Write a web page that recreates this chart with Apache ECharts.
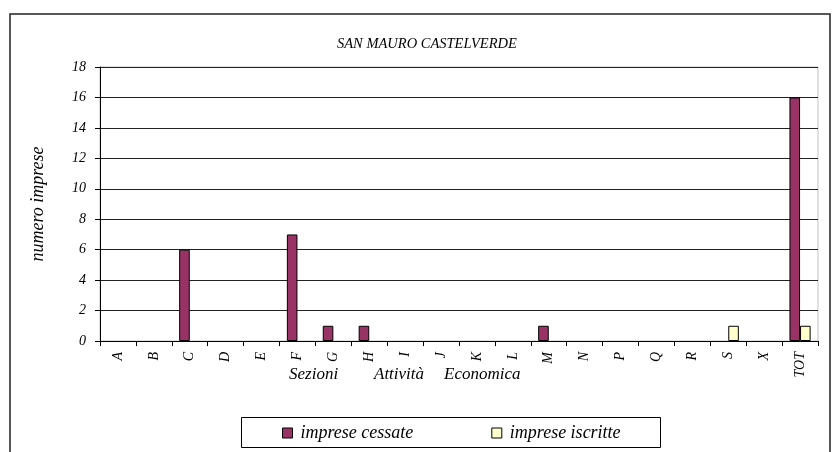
<!DOCTYPE html>
<html><head><meta charset="utf-8">
<script src="https://cdn.jsdelivr.net/npm/echarts@6/dist/echarts.min.js"></script>
<style>html,body{margin:0;padding:0;background:#fff}#c{width:838px;height:452px}</style>
</head><body><div id="c"></div>
<script>
const categories = ['A','B','C','D','E','F','G','H','I','J','K','L','M','N','P','Q','R','S','X','TOT'];
const cessate =   [0,0,6,0,0,7,1,1,0,0,0,0,1,0,0,0,0,0,0,16];
const iscritte =  [0,0,0,0,0,0,0,0,0,0,0,0,0,0,0,0,0,1,0,1];
const yTicks = [0,2,4,6,8,10,12,14,16,18];
const FONT = '"Liberation Serif","Times New Roman",serif';
const hideZero = arr => arr.map(v => v === 0 ? {value:v, itemStyle:{borderWidth:0, opacity:0}} : v);
const chart = echarts.init(document.getElementById('c'), null, {renderer:'canvas'});
chart.setOption({
  animation:false,
  backgroundColor:'#fff',
  title:{text:'SAN MAURO CASTELVERDE', left:337, top:37, padding:0,
    textStyle:{fontFamily:FONT, fontStyle:'italic', fontWeight:'normal', fontSize:14.5, color:'#000'}},
  grid:{left:100, right:20, top:67, bottom:111, show:true, borderColor:'#c0c0c0', borderWidth:1},
  legend:{left:282, top:424, padding:0, itemWidth:10, itemHeight:10, itemGap:78, icon:'rect',
    textStyle:{fontFamily:FONT, fontStyle:'italic', fontSize:18, color:'#000', padding:[0,0,0,3]},
    itemStyle:{borderColor:'#000', borderWidth:1},
    data:['imprese cessate','imprese iscritte']},
  xAxis:{type:'category', data:categories, boundaryGap:true,
    axisLine:{lineStyle:{color:'#000'}}, axisTick:{show:true, length:5, alignWithLabel:false, lineStyle:{color:'#000'}},
    axisLabel:{rotate:90, fontFamily:FONT, fontStyle:'italic', fontSize:14, color:'#000', margin:11, interval:0}},
  yAxis:{type:'value', min:0, max:18, interval:2,
    name:'numero imprese', nameLocation:'middle', nameGap:53,
    nameTextStyle:{fontFamily:FONT, fontStyle:'italic', fontSize:18, color:'#000'},
    axisLine:{show:true, lineStyle:{color:'#000'}}, axisTick:{show:true, length:5, lineStyle:{color:'#000'}},
    axisLabel:{fontFamily:FONT, fontStyle:'italic', fontSize:14, color:'#000', margin:14,
      formatter:v=>yTicks.includes(v)?String(v):''},
    splitLine:{show:true, lineStyle:{color:'#222', width:1}}},
  series:[
    {name:'imprese cessate', type:'bar', data:hideZero(cessate), barGap:'0%', barCategoryGap:'41%',
      itemStyle:{color:'#993366', borderColor:'#000', borderWidth:1}},
    {name:'imprese iscritte', type:'bar', data:hideZero(iscritte), barGap:'0%', barCategoryGap:'41%',
      itemStyle:{color:'#ffffcc', borderColor:'#000', borderWidth:1}}
  ],
  graphic:[
    {type:'rect', shape:{x:10,y:14,width:820,height:460}, style:{fill:null, stroke:'#222', lineWidth:1.5}, silent:true, z:-1},
    {type:'rect', shape:{x:241.5,y:417.5,width:419,height:30}, style:{fill:null, stroke:'#000', lineWidth:1}, silent:true},
    {type:'text', left:289, top:366, style:{text:'Sezioni', font:'italic 17px "Liberation Serif", serif', fill:'#000'}},
    {type:'text', left:374, top:366, style:{text:'Attività', font:'italic 17px "Liberation Serif", serif', fill:'#000'}},
    {type:'text', left:444, top:366, style:{text:'Economica', font:'italic 17px "Liberation Serif", serif', fill:'#000'}}
  ]
});
</script></body></html>
